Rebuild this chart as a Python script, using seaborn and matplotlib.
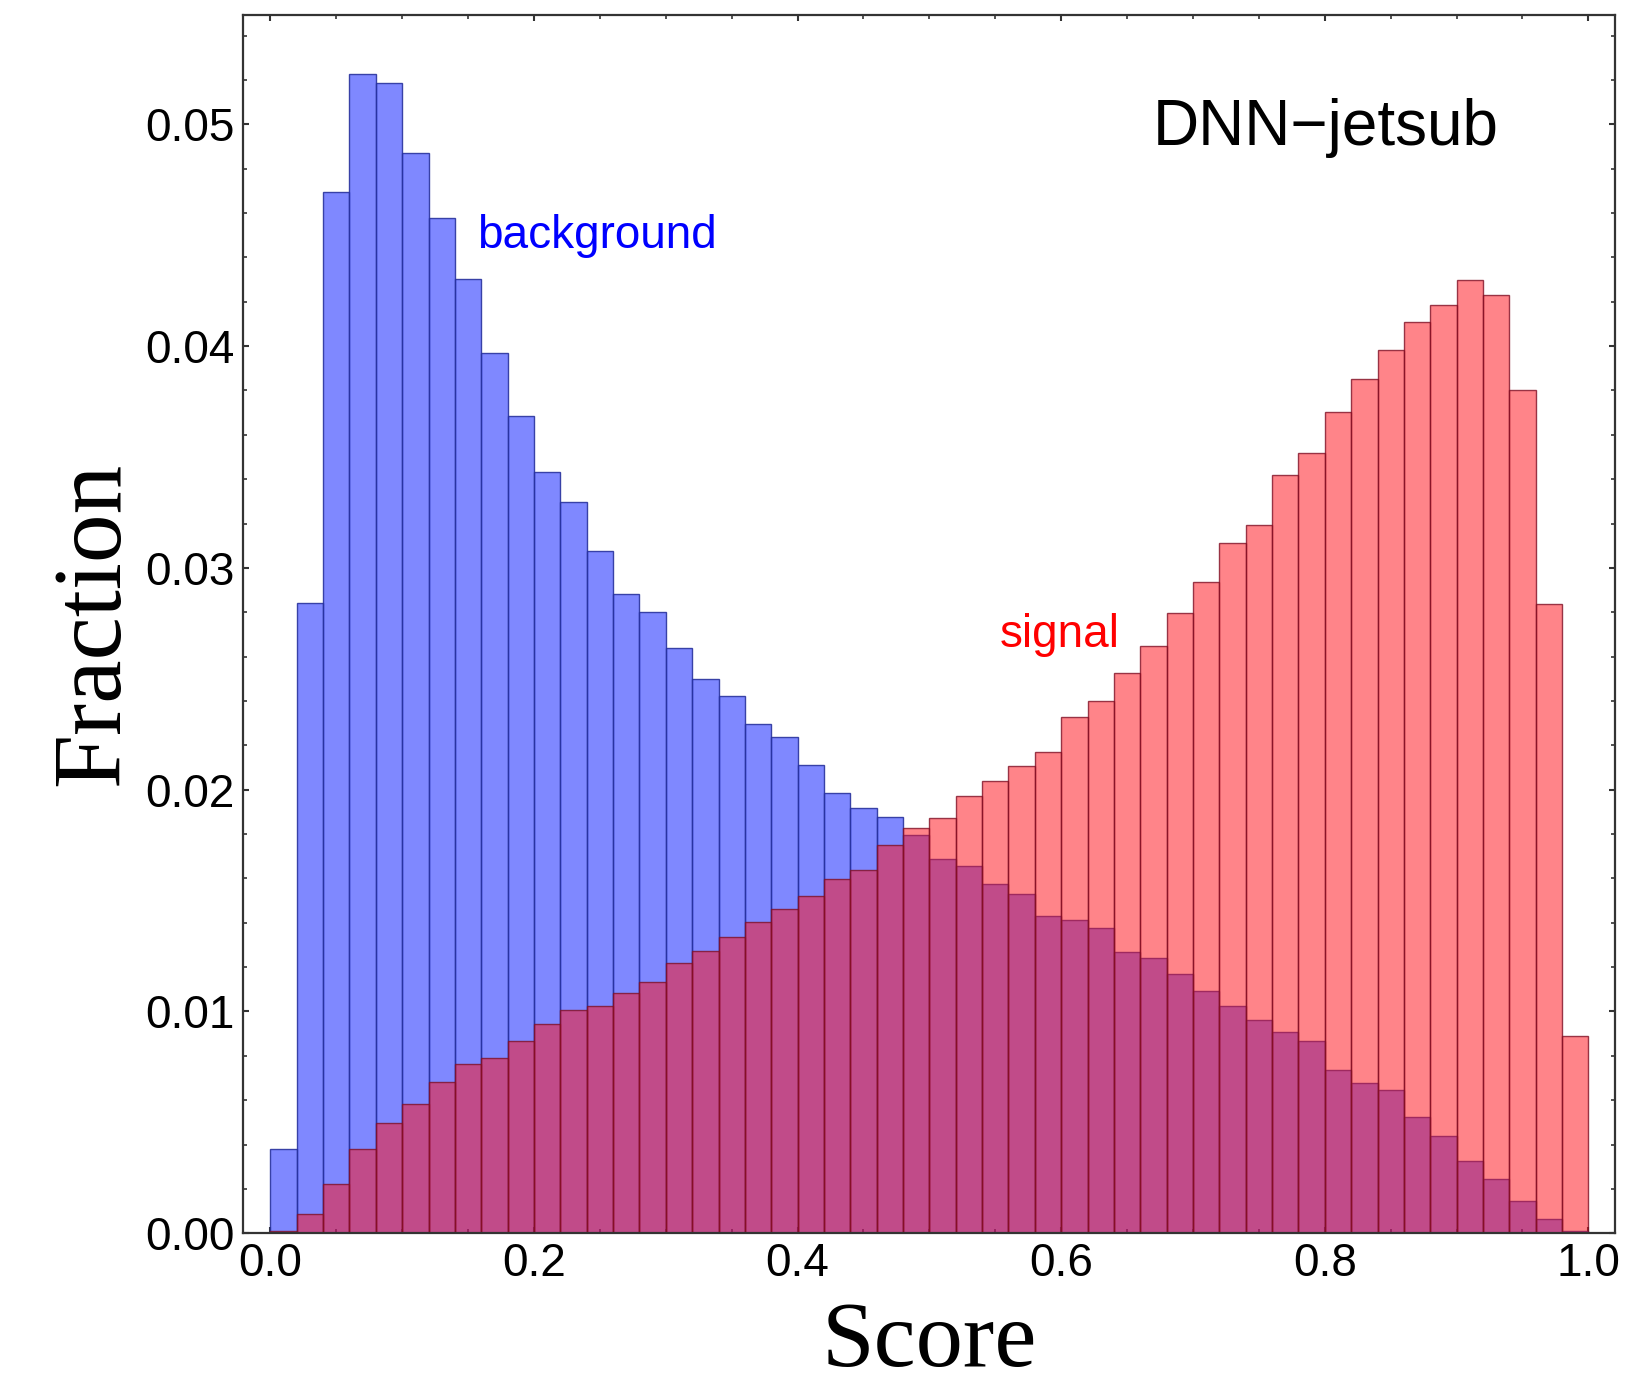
import numpy as np
import pandas as pd
import matplotlib
matplotlib.use("Agg")
import matplotlib.pyplot as plt
from matplotlib.ticker import MultipleLocator
import seaborn as sns

# Histogram of classifier scores: 50 bins of width 0.02 on [0, 1]
n_bins = 50
bin_edges = np.linspace(0.0, 1.0, n_bins + 1)
bin_centers = 0.5 * (bin_edges[:-1] + bin_edges[1:])

background = [
    0.00378, 0.02841, 0.04694, 0.05227, 0.05188, 0.04872, 0.04577, 0.04301, 0.03968, 0.03684,
    0.03431, 0.03298, 0.03074, 0.02880, 0.02801, 0.02640, 0.02500, 0.02421, 0.02298, 0.02237,
    0.02113, 0.01984, 0.01916, 0.01878, 0.01794, 0.01688, 0.01655, 0.01573, 0.01528, 0.01432,
    0.01411, 0.01376, 0.01266, 0.01243, 0.01171, 0.01093, 0.01024, 0.00963, 0.00906, 0.00865,
    0.00736, 0.00679, 0.00644, 0.00523, 0.00440, 0.00325, 0.00247, 0.00144, 0.00066, 0.00010,
]
signal = [
    0.00010, 0.00087, 0.00221, 0.00378, 0.00496, 0.00581, 0.00683, 0.00764, 0.00790, 0.00867,
    0.00943, 0.01007, 0.01024, 0.01085, 0.01135, 0.01220, 0.01271, 0.01338, 0.01403, 0.01464,
    0.01520, 0.01596, 0.01638, 0.01749, 0.01826, 0.01874, 0.01971, 0.02037, 0.02105, 0.02172,
    0.02327, 0.02399, 0.02524, 0.02648, 0.02795, 0.02938, 0.03111, 0.03194, 0.03419, 0.03519,
    0.03703, 0.03850, 0.03982, 0.04109, 0.04186, 0.04296, 0.04230, 0.03804, 0.02835, 0.00888,
]

x_ticks = [0.0, 0.2, 0.4, 0.6, 0.8, 1.0]
y_ticks = [0.00, 0.01, 0.02, 0.03, 0.04, 0.05]

df = pd.DataFrame({"score": bin_centers, "background": background, "signal": signal})

sns.set_style("ticks")
plt.rcParams["font.family"] = ["Liberation Sans", "DejaVu Sans"]
plt.rcParams["text.color"] = "black"
plt.rcParams["axes.labelcolor"] = "black"

W, H = 1650, 1386
fig = plt.figure(figsize=(W / 100, H / 100), dpi=100)
ax = fig.add_axes([243 / W, 1 - 1233.3 / H, 1372 / W, 1218.6 / H])

blue_face = (11 / 255, 28 / 255, 1.0, 0.52)
blue_edge = (0.16, 0.20, 0.62, 0.9)
red_face = (1.0, 19 / 255, 29 / 255, 0.52)
red_edge = (0.50, 0.06, 0.14, 0.8)

sns.histplot(data=df, x="score", weights="background", bins=n_bins, binrange=(0, 1), ax=ax,
             facecolor=blue_face, edgecolor=blue_edge, linewidth=1.0)
sns.histplot(data=df, x="score", weights="signal", bins=n_bins, binrange=(0, 1), ax=ax,
             facecolor=red_face, edgecolor=red_edge, linewidth=1.0)

ax.set_xlim(-0.0208, 1.0202)
ax.set_ylim(0.0, 0.05494)
ax.set_xticks(x_ticks)
ax.set_xticklabels([f"{v:.1f}" for v in x_ticks])
ax.set_yticks(y_ticks)
ax.set_yticklabels([f"{v:.2f}" for v in y_ticks])
ax.xaxis.set_minor_locator(MultipleLocator(0.05))
ax.yaxis.set_minor_locator(MultipleLocator(0.002))
ax.tick_params(which="both", direction="in", top=True, right=True, colors="#333333",
               labelcolor="black")
ax.tick_params(which="major", length=4.6, width=1.5, labelsize=33, pad=6)
ax.tick_params(which="minor", length=3.2, width=1.2)
for sp in ax.spines.values():
    sp.set_linewidth(1.6)
    sp.set_color("#333333")

ax.set_xlabel("Score", family=["Liberation Serif", "DejaVu Serif"], fontsize=68, color="black")
ax.set_ylabel("Fraction", family=["Liberation Serif", "DejaVu Serif"], fontsize=70, color="black")
ax.xaxis.label.set_va("baseline")
ax.yaxis.label.set_va("baseline")
ax.xaxis.set_label_coords(0.5, -0.1085)
ax.yaxis.set_label_coords(-0.0911, 0.5)

ax.text(0.6691, 0.04906, "DNN\u2212jetsub", fontsize=46, color="black", va="baseline", ha="left")
ax.text(0.1568, 0.04441, "background", fontsize=33, color="#0000ff", va="baseline", ha="left")
ax.text(0.5536, 0.02643, "signal", fontsize=33, color="#ff0000", va="baseline", ha="left")

fig.savefig("out.png", dpi=100)
